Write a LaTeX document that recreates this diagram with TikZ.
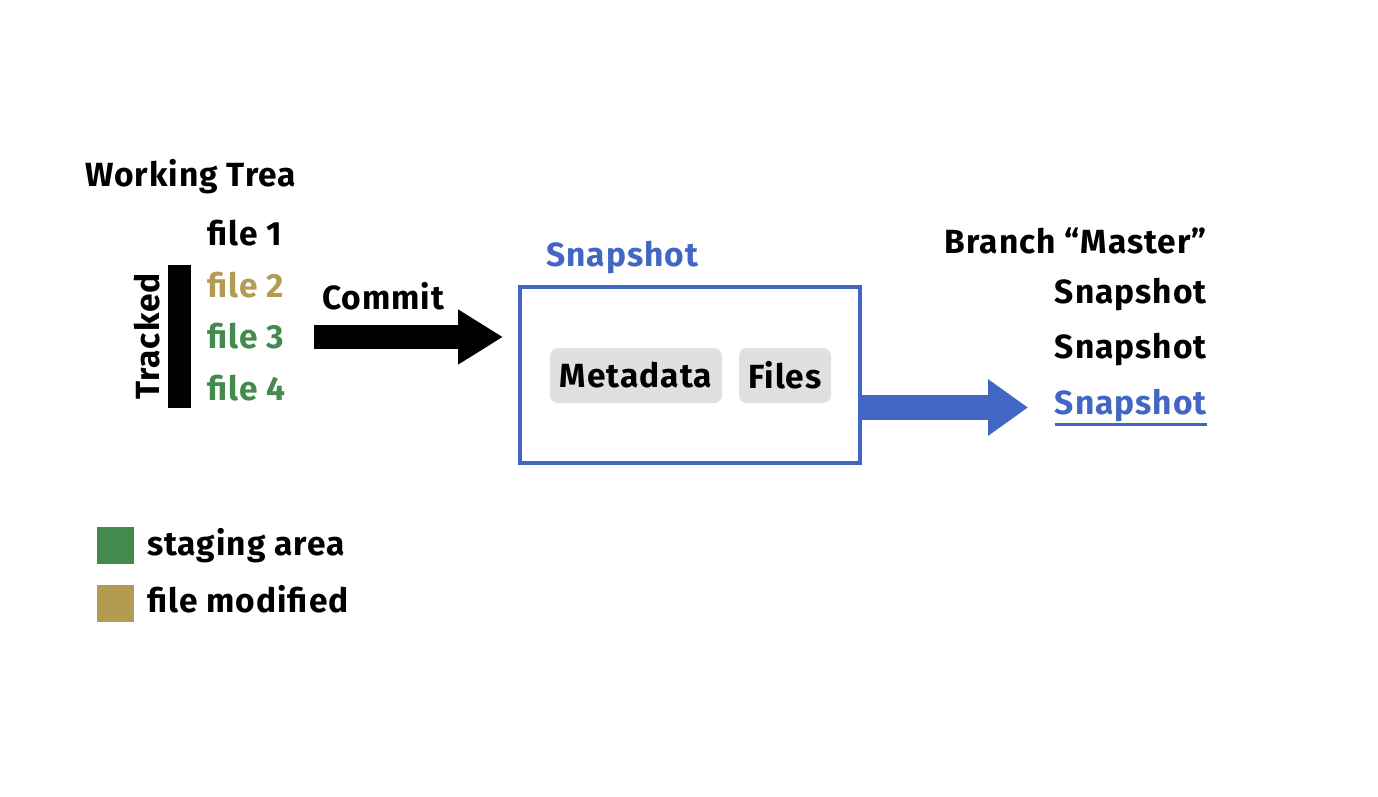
\documentclass[tikz,border=0pt]{standalone}
\usepackage{fontspec}
\setmainfont[LetterSpace=3]{Fira Sans}
\usetikzlibrary{arrows.meta}
\definecolor{gblue}{RGB}{65,102,196}
\definecolor{ggreen}{RGB}{66,139,76}
\definecolor{gtan}{RGB}{179,155,82}
\definecolor{ggrey}{RGB}{224,224,224}
\begin{document}
\begin{tikzpicture}[x=1pt,y=-1pt,
  txt/.style={font=\bfseries\fontsize{33.5}{38}\selectfont, inner sep=0pt},
  pill/.style={txt, fill=ggrey, rounded corners=8pt, minimum height=55pt},
  fatarrow/.style={line width=24pt, -{Triangle[length=45pt, width=52pt]}},
  swatch/.style={minimum size=37pt, inner sep=0pt}]
\useasboundingbox (0,0) rectangle (1378,797);
% working tree
\node[txt, anchor=base west] (wt) at (85,186) {Working Trea};
\node[txt, anchor=base west] (f1) at (207,245) {file 1};
\node[txt, anchor=base west, text=gtan] (f2) at (207,297) {file 2};
\node[txt, anchor=base west, text=ggreen] (f3) at (207,348) {file 3};
\node[txt, anchor=base west, text=ggreen] (f4) at (207,400) {file 4};
\node[fill=black, minimum width=23pt, minimum height=143pt, inner sep=0pt] (bar) at (179.5,336.5) {};
\node[txt, rotate=90, anchor=base] (tr) at (159,336.5) {Tracked};
% commit
\node[txt, anchor=base west] (commit) at (322,309) {Commit};
\coordinate (ca) at (314,337);
% snapshot box
\node[draw=gblue, line width=4pt, minimum width=340pt, minimum height=176pt, inner sep=0pt] (snap) at (690,375) {};
\node[txt, anchor=base west, text=gblue] (snaplbl) at (546,266) {Snapshot};
\node[pill, minimum width=172pt] (meta) at (636,375.5) {Metadata};
\node[pill, minimum width=92pt] (files) at (785,375.5) {Files};
\draw[fatarrow] (ca) -- (snap.west |- ca) [shorten >=15pt];
% branch
\node[txt, anchor=base east] (br) at (1207,253) {Branch “Master”};
\node[txt, anchor=base east] (s1) at (1207,303) {Snapshot};
\node[txt, anchor=base east] (s2) at (1207,358) {Snapshot};
\node[txt, anchor=base east, text=gblue] (s3) at (1207,414) {Snapshot};
\draw[gblue, line width=3pt] ([yshift=-10pt]s3.base west) -- ([yshift=-10pt]s3.base east);
\coordinate (bb) at (1028,407.5);
\draw[gblue, line width=25pt, -{Triangle[length=40pt, width=54pt]}] (snap.east |- bb) -- (bb);
% legend
\node[swatch, fill=ggreen] (lg) at (115.5,545) {};
\node[txt, anchor=base west] (lgt) at (147,555) {staging area};
\node[swatch, fill=gtan] (lt) at (115.5,603.5) {};
\node[txt, anchor=base west] (ltt) at (147,612) {file modified};
\end{tikzpicture}
\end{document}
